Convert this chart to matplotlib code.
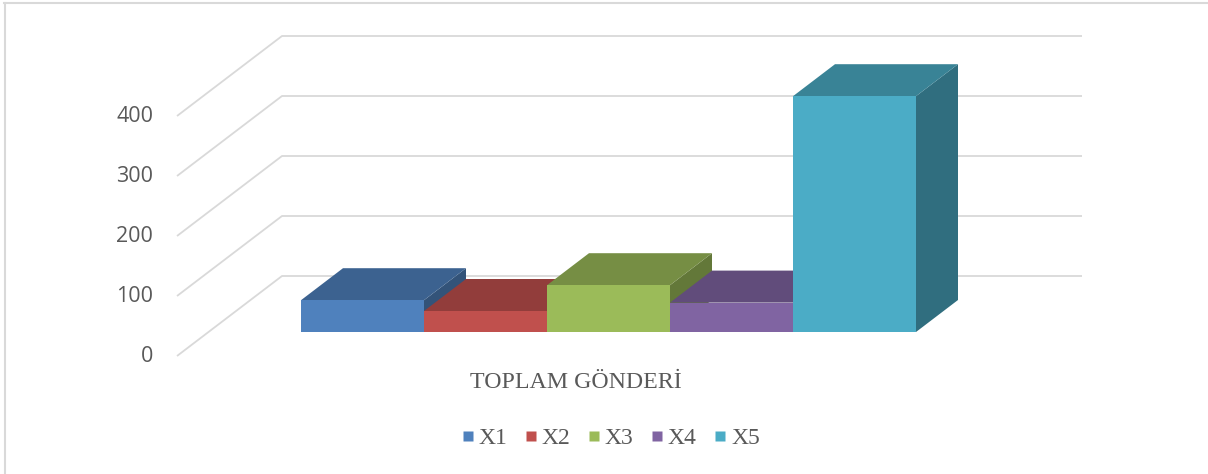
import matplotlib.pyplot as plt
from matplotlib.patches import Polygon
from matplotlib.lines import Line2D
import matplotlib.colors as mcolors

# data
series = ["X1", "X2", "X3", "X4", "X5"]
values = [53, 35, 78, 49, 393]
colors = ["#4F81BD", "#C0504D", "#9BBB59", "#8064A2", "#4BACC6"]
category = "TOPLAM GÖNDERİ"
yticks = [0, 100, 200, 300, 400]

W, H = 1208, 474
X0, PLOT_W = 177, 800      # front-left of plot area and its width in px
Y0, PX_PER_UNIT = 356, 0.6  # image row of value 0, px per value unit

# oblique depth vector (full depth), in data units
DX = 105 / PLOT_W
DV = 80 / PX_PER_UNIT

fig = plt.figure(figsize=(W / 100, H / 100), dpi=100)
ax = fig.add_axes([0, 0, 1, 1])
ax.set_xlim(-X0 / PLOT_W, (W - X0) / PLOT_W)
ax.set_ylim((Y0 - H) / PX_PER_UNIT, Y0 / PX_PER_UNIT)
ax.axis("off")

grid_c = "#D9D9D9"
text_c = "#595959"

# walls: side diagonal + back horizontal line per tick
for v in yticks:
    ax.plot([0, DX, 1 + DX], [v, v + DV, v + DV], color=grid_c, lw=1.3,
            solid_capstyle="butt", zorder=1)
    ax.text(-0.03, v, str(v), ha="right", va="center", fontsize=15.5,
            family="Open Sans", color=text_c)


def shade(c, f):
    r, g, b = mcolors.to_rgb(c)
    return (r * f, g * f, b * f)


bar_w = 123 / PLOT_W
gap = (1 - bar_w * len(values)) / 2
d0, d1 = 0.3, 0.7
for i, (val, col) in enumerate(zip(values, colors)):
    x = gap + i * bar_w + d0 * DX
    b = d0 * DV
    ddx = (d1 - d0) * DX
    ddv = (d1 - d0) * DV
    side = [(x + bar_w, b), (x + bar_w + ddx, b + ddv),
            (x + bar_w + ddx, b + ddv + val), (x + bar_w, b + val)]
    top = [(x, b + val), (x + bar_w, b + val),
           (x + bar_w + ddx, b + val + ddv), (x + ddx, b + val + ddv)]
    ax.add_patch(Polygon(side, closed=True, fc=shade(col, 0.64), ec="none", zorder=2 + i))
    ax.add_patch(Polygon(top, closed=True, fc=shade(col, 0.76), ec="none", zorder=2 + i))
    ax.bar(x, val, width=bar_w, bottom=b, align="edge", color=col, lw=0, zorder=2 + i)

ax.text(0.499, (Y0 - 383) / PX_PER_UNIT, category, ha="center", va="center",
        fontsize=17.2, family="Liberation Serif", color=text_c)

handles = [Line2D([], [], marker="s", ls="none", markersize=7.5,
                  markerfacecolor=c, markeredgecolor="none") for c in colors]
fig.legend(handles, series, loc="center", bbox_to_anchor=(611 / W, 1 - 438 / H),
           ncol=5, frameon=False, handlelength=0.45, handletextpad=0.25,
           columnspacing=0.75, prop={"family": "Liberation Serif", "size": 17},
           labelcolor=text_c)

# outer chart border (top and left visible)
ax.plot([(4 - X0) / PLOT_W, (W - X0) / PLOT_W], [(Y0 - 3) / PX_PER_UNIT] * 2,
        color="#D9D9D9", lw=1.5, zorder=0)
ax.plot([(4.5 - X0) / PLOT_W] * 2, [(Y0 - 3) / PX_PER_UNIT, (Y0 - H) / PX_PER_UNIT],
        color="#D9D9D9", lw=1.5, zorder=0)

fig.savefig("out.png", dpi=100)
